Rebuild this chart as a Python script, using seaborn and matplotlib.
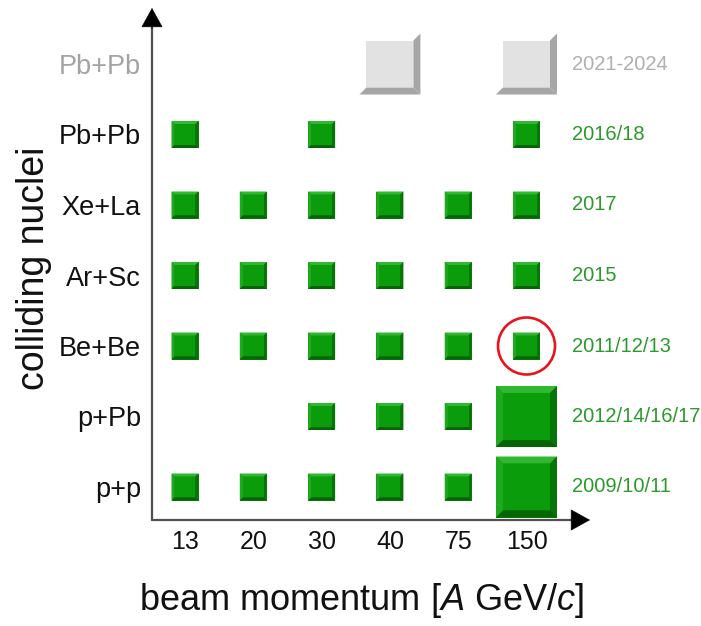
import numpy as np
import pandas as pd
import matplotlib
matplotlib.use("Agg")
import matplotlib.pyplot as plt
from matplotlib.path import Path
import seaborn as sns

# ==========================================
# data
# ==========================================
momenta = ["13", "20", "30", "40", "75", "150"]
systems = ["p+p", "p+Pb", "Be+Be", "Ar+Sc", "Xe+La", "Pb+Pb", "Pb+Pb "]
years = ["2009/10/11", "2012/14/16/17", "2011/12/13", "2015", "2017", "2016/18", "2021-2024"]

# measured momenta per system (bottom -> top)
pp_mom = ["13", "20", "30", "40", "75", "150"]
ppb_mom = ["30", "40", "75", "150"]
bebe_mom = ["13", "20", "30", "40", "75", "150"]
arsc_mom = ["13", "20", "30", "40", "75", "150"]
xela_mom = ["13", "20", "30", "40", "75", "150"]
pbpb_mom = ["13", "30", "150"]
pbpb_future_mom = ["40", "150"]

# cells with large statistics
big_cells = [("p+p", "150"), ("p+Pb", "150"), ("Pb+Pb ", "40"), ("Pb+Pb ", "150")]
highlight = ("Be+Be", "150")

rows = []
for sys_name, moms in zip(systems, [pp_mom, ppb_mom, bebe_mom, arsc_mom, xela_mom, pbpb_mom, pbpb_future_mom]):
    for m in moms:
        rows.append({
            "x": momenta.index(m),
            "y": systems.index(sys_name),
            "kind": "future" if sys_name == "Pb+Pb " else "done",
            "stat": "big" if (sys_name, m) in big_cells else "small",
        })
df = pd.DataFrame(rows)

# ==========================================
# style
# ==========================================
sns.set_style("white")
plt.rcParams["font.family"] = ["Liberation Sans", "DejaVu Sans"]
plt.rcParams["mathtext.fontset"] = "custom"
plt.rcParams["mathtext.it"] = "Liberation Sans:italic"
plt.rcParams["mathtext.rm"] = "Liberation Sans"

# ==========================================
# bevelled square markers (every piece spans the outer square -> they line up)
# ==========================================
b = 0.77  # inner face half-size relative to outer
pieces = {
    "base": [(-1, -1), (1, -1), (1, 1), (-1, 1)],
    "top": [(-1, 1), (1, 1), (b, b), (-b, b)],
    "left": [(-1, -1), (-1, 1), (-b, b), (-b, -b)],
    "right": [(1, -1), (1, 1), (b, b), (b, -b)],
    "bottom": [(-1, -1), (1, -1), (b, -b), (-b, -b)],
    "face": [(-b, -b), (b, -b), (b, b), (-b, b)],
}
colors = {
    "base": {"done": "#0a8a0a", "future": "#d0d0d0"},
    "top": {"done": "#30b830", "future": "#ffffff"},
    "left": {"done": "#1fa91f", "future": "#ffffff"},
    "right": {"done": "#067406", "future": "#a6a6a6"},
    "bottom": {"done": "#036603", "future": "#a6a6a6"},
    "face": {"done": "#0b9c0b", "future": "#e2e2e2"},
}


def piece_marker(verts):
    # degenerate anchors at the outer corners keep the same normalisation for all pieces
    v = [(-1, -1), (1, 1)] + verts + [verts[0]]
    codes = [Path.MOVETO, Path.MOVETO, Path.MOVETO] + [Path.LINETO] * (len(verts) - 1) + [Path.CLOSEPOLY]
    return Path(np.array(v, dtype=float), codes)


px = 72 / 100
sizes = {"small": (27 * px) ** 2, "big": (61 * px) ** 2}

fig = plt.figure(figsize=(7.01, 6.26), dpi=100)
W, H = 701, 626
ax = fig.add_axes([152 / W, (H - 520) / H, (590 - 152) / W, (520 - 8) / H])

for name, verts in pieces.items():
    if name == "base":
        # gray cells have a white top/left bevel, so no base under them
        part = df[df["kind"] == "done"]
    else:
        part = df
    sns.scatterplot(data=part, x="x", y="y", hue="kind", palette=colors[name],
                    size="stat", sizes=sizes, marker=piece_marker(verts),
                    linewidth=0, edgecolor="none", legend=False, ax=ax, zorder=3)

# highlighted cell
hl = pd.DataFrame({"x": [momenta.index(highlight[1])], "y": [systems.index(highlight[0])]})
sns.scatterplot(data=hl, x="x", y="y", s=(57 * px) ** 2, marker="o",
                facecolor="none", edgecolor="#e8141c", linewidth=1.9, ax=ax, zorder=4)

ax.set_xlim(-(185 - 152) / 68.3, (590 - 185) / 68.3)
ax.set_ylim(-(520 - 487) / 70.5, (487 - 8) / 70.5)

# axes with arrow heads
for s in ax.spines.values():
    s.set_visible(False)
ax.plot([0, 0], [0, 0.98], color="#505050", lw=1.6, transform=ax.transAxes, clip_on=False)
ax.plot([0, 0.98], [0, 0], color="#505050", lw=1.6, transform=ax.transAxes, clip_on=False)
head = dict(arrowstyle="-|>,head_length=1.3,head_width=0.72", color="black", lw=0.5,
            shrinkA=0, shrinkB=0)
ax.annotate("", xy=(0, 1), xytext=(0, 0.96), xycoords="axes fraction", arrowprops=head,
            annotation_clip=False)
ax.annotate("", xy=(1, 0), xytext=(0.96, 0), xycoords="axes fraction", arrowprops=head,
            annotation_clip=False)

ax.set_xticks(range(len(momenta)))
ax.set_xticklabels(momenta, fontsize=18, color="#111111")
ax.set_yticks(range(len(systems)))
ax.set_yticklabels([s.strip() for s in systems], fontsize=19.5, color="#111111")
ax.get_yticklabels()[-1].set_color("#a3a3a3")
ax.tick_params(axis="x", length=0, pad=7)
ax.tick_params(axis="y", length=0, pad=8)
ax.set_xlabel("")
ax.set_ylabel("")

# years at right
for i, yr in enumerate(years):
    ax.text(5.66, i, yr, fontsize=14.5, va="center", ha="left",
            color="#b0b0b0" if i == len(years) - 1 else "#2a9a2a", clip_on=False)

fig.text(362 / W, 1 - 600 / H, r"beam momentum [$\mathit{A}$ GeV/$\mathit{c}$]",
         fontsize=26, ha="center", va="center", color="#111111")
fig.text(34 / W, 1 - 268 / H, "colliding nuclei", fontsize=27, rotation=90,
         ha="center", va="center", color="#111111")

fig.savefig("out.png", dpi=100)
